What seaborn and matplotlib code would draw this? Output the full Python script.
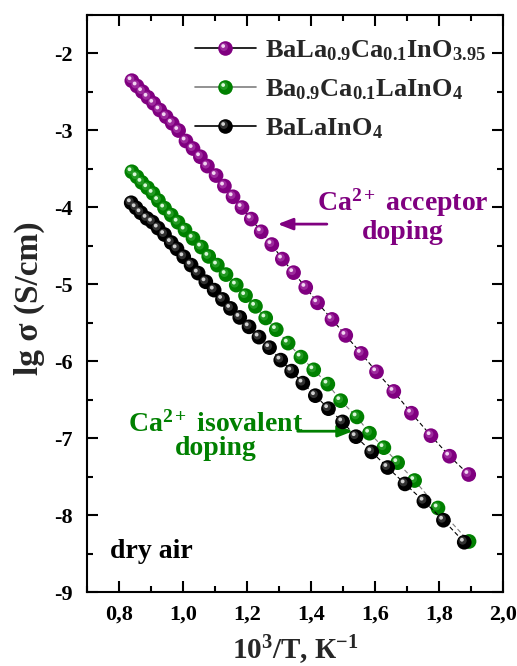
import numpy as np
import pandas as pd
import matplotlib
matplotlib.use("Agg")
import matplotlib.pyplot as plt
import seaborn as sns
from matplotlib.lines import Line2D
from matplotlib.path import Path
from matplotlib.markers import MarkerStyle
from matplotlib.ticker import MultipleLocator, FuncFormatter
from matplotlib.legend_handler import HandlerTuple

# ---------------- data ----------------
x_acceptor = [0.841, 0.857, 0.874, 0.891, 0.909, 0.928, 0.948, 0.967, 0.987, 1.010,
              1.032, 1.055, 1.077, 1.104, 1.130, 1.157, 1.185, 1.214, 1.245, 1.278,
              1.311, 1.346, 1.384, 1.421, 1.466, 1.509, 1.557, 1.605, 1.659, 1.714,
              1.775, 1.833, 1.893]
y_acceptor = [-2.354, -2.423, -2.497, -2.570, -2.648, -2.735, -2.822, -2.908, -3.002, -3.138,
              -3.236, -3.343, -3.464, -3.587, -3.724, -3.863, -4.003, -4.153, -4.318, -4.484,
              -4.673, -4.849, -5.041, -5.241, -5.457, -5.665, -5.899, -6.138, -6.393, -6.676,
              -6.968, -7.235, -7.473]

x_isovalent = [0.841, 0.857, 0.872, 0.890, 0.907, 0.924, 0.943, 0.964, 0.985, 1.007,
               1.032, 1.058, 1.081, 1.108, 1.135, 1.167, 1.196, 1.227, 1.259, 1.292,
               1.329, 1.369, 1.409, 1.453, 1.493, 1.544, 1.583, 1.628, 1.671, 1.724,
               1.797, 1.894]
y_isovalent = [-3.538, -3.603, -3.676, -3.746, -3.819, -3.912, -4.010, -4.101, -4.194, -4.296,
               -4.404, -4.517, -4.638, -4.751, -4.874, -5.011, -5.148, -5.287, -5.438, -5.590,
               -5.765, -5.947, -6.112, -6.298, -6.513, -6.724, -6.936, -7.124, -7.319, -7.551,
               -7.908, -8.343]

x_undoped = [0.839, 0.854, 0.869, 0.888, 0.905, 0.923, 0.943, 0.964, 0.982, 1.003,
             1.026, 1.048, 1.072, 1.098, 1.124, 1.149, 1.178, 1.207, 1.238, 1.271,
             1.306, 1.340, 1.375, 1.414, 1.455, 1.499, 1.541, 1.590, 1.640, 1.694,
             1.753, 1.814, 1.879]
y_undoped = [-3.941, -4.006, -4.071, -4.144, -4.192, -4.270, -4.354, -4.458, -4.540, -4.643,
             -4.751, -4.855, -4.968, -5.076, -5.197, -5.314, -5.431, -5.553, -5.687, -5.824,
             -5.986, -6.129, -6.285, -6.448, -6.617, -6.789, -6.981, -7.179, -7.382, -7.595,
             -7.820, -8.067, -8.353]

labels = [r"BaLa$_{0.9}$Ca$_{0.1}$InO$_{3.95}$",
          r"Ba$_{0.9}$Ca$_{0.1}$LaInO$_{4}$",
          r"BaLaInO$_{4}$"]
colors = ["#800080", "#008000", "#000000"]
line_colors = ["#000000", "#7f7f7f", "#000000"]
highlights = ["#f2d6f2", "#d9f7d9", "#d0d0d0"]
glows = ["#b44db4", "#3fae3f", "#5a5a5a"]

xtick_vals = [0.8, 1.0, 1.2, 1.4, 1.6, 1.8, 2.0]
ytick_vals = [-9, -8, -7, -6, -5, -4, -3, -2]

# ---------------- style ----------------
sns.set_theme(style="ticks")
plt.rcParams["font.family"] = ["Liberation Serif", "DejaVu Serif"]
plt.rcParams["font.weight"] = "bold"
plt.rcParams["mathtext.fontset"] = "custom"
plt.rcParams["mathtext.rm"] = "Liberation Serif:bold"
plt.rcParams["mathtext.bf"] = "Liberation Serif:bold"
plt.rcParams["mathtext.it"] = "Liberation Serif:italic:bold"
plt.rcParams["axes.unicode_minus"] = False


def offset_circle(cx, cy, r):
    corners = Path([[1.0, 1.0], [-1.0, -1.0]], [Path.MOVETO, Path.MOVETO])
    return MarkerStyle(Path.make_compound_path(corners, Path.circle((cx, cy), r)))


glow_marker = offset_circle(-0.22, 0.22, 0.55)
spot_marker = offset_circle(-0.32, 0.34, 0.26)

fig = plt.figure(figsize=(5.17, 6.66), dpi=100)
ax = fig.add_axes([0.1677, 0.1111, 0.8052, 0.8664])

series = [(x_acceptor, y_acceptor), (x_isovalent, y_isovalent), (x_undoped, y_undoped)]
S = 112
for i, (xs, ys) in enumerate(series):
    df = pd.DataFrame({"x": xs, "y": ys})
    sns.lineplot(data=df, x="x", y="y", ax=ax, color=line_colors[i], lw=0.8,
                 linestyle=(0, (4, 2.5)), zorder=2 + 3 * i, legend=False)
    sns.scatterplot(data=df, x="x", y="y", ax=ax, color=colors[i], s=S,
                    edgecolor="none", linewidth=0, zorder=3 + 3 * i, legend=False)
    sns.scatterplot(data=df, x="x", y="y", ax=ax, color=glows[i], s=S, marker=glow_marker,
                    edgecolor="none", linewidth=0, alpha=0.55, zorder=3.3 + 3 * i, legend=False)
    sns.scatterplot(data=df, x="x", y="y", ax=ax, color=highlights[i], s=S, marker=spot_marker,
                    edgecolor="none", linewidth=0, zorder=3.6 + 3 * i, legend=False)

ax.set_xlim(0.7, 2.0)
ax.set_ylim(-9, -1.5)
ax.set_xticks(xtick_vals)
ax.set_yticks(ytick_vals)
ax.xaxis.set_minor_locator(MultipleLocator(0.1))
ax.yaxis.set_minor_locator(MultipleLocator(0.5))
ax.xaxis.set_major_formatter(FuncFormatter(lambda v, p: f"{v:.1f}".replace(".", ",")))
ax.yaxis.set_major_formatter(FuncFormatter(lambda v, p: f"{v:.0f}"))
ax.tick_params(which="both", direction="in", top=True, right=True, width=1.5,
               colors="black", labelsize=16)
ax.tick_params(which="major", length=8)
ax.tick_params(which="minor", length=4)
ax.tick_params(axis="x", which="major", pad=9)
ax.tick_params(axis="y", which="major", pad=10)
for lab in ax.get_xticklabels() + ax.get_yticklabels():
    lab.set_fontweight("bold")
for sp in ax.spines.values():
    sp.set_linewidth(1.5)
    sp.set_color("black")

ax.set_xlabel("10$^{3}$/T, К$^{-1}$", fontsize=21, fontweight="bold")
ax.set_ylabel("lg σ (S/cm)", fontsize=24, fontweight="bold")
ax.xaxis.set_label_coords(0.5, -0.072)
ax.yaxis.set_label_coords(-0.1, 0.51)

# legend
handles = []
for i in range(3):
    h1 = Line2D([0], [0], color=line_colors[i], lw=1.2, marker="o", ms=10.5,
                mfc=colors[i], mec=colors[i], mew=0)
    h2 = Line2D([0], [0], ls="none", marker=glow_marker, ms=10.5, mfc=glows[i], mec="none",
                alpha=0.55)
    h3 = Line2D([0], [0], ls="none", marker=spot_marker, ms=10.5, mfc=highlights[i], mec="none")
    handles.append((h1, h2, h3))
leg = ax.legend(handles, labels, loc="upper left", bbox_to_anchor=(0.26, 0.96),
                frameon=False, fontsize=19, handlelength=2.3, handletextpad=0.35,
                labelspacing=0.55, borderpad=0, borderaxespad=0,
                handler_map={tuple: HandlerTuple(ndivide=1, pad=0)})

# annotations
purple = colors[0]
green = colors[1]
ax.annotate("", xy=(1.2965, -4.218), xytext=(1.450, -4.218),
            arrowprops=dict(arrowstyle="-|>,head_length=0.9,head_width=0.35",
                            lw=2, color=purple, shrinkA=0, shrinkB=0, mutation_scale=10))
ax.text(1.688, -4.114, "Ca$^{2+}$ acceptor\ndoping", color=purple, fontsize=20,
        fontweight="bold", ha="center", va="center", multialignment="center",
        linespacing=1.05)

ax.annotate("", xy=(1.5315, -6.91), xytext=(1.359, -6.91),
            arrowprops=dict(arrowstyle="-|>,head_length=0.9,head_width=0.35",
                            lw=2, color=green, shrinkA=0, shrinkB=0, mutation_scale=10))
ax.text(1.102, -6.975, "Ca$^{2+}$ isovalent\ndoping", color=green, fontsize=20,
        fontweight="bold", ha="center", va="center", multialignment="center",
        linespacing=0.95)

ax.text(0.773, -8.47, "dry air", color="black", fontsize=20, fontweight="bold",
        ha="left", va="center")

fig.savefig("out.png", dpi=100)
